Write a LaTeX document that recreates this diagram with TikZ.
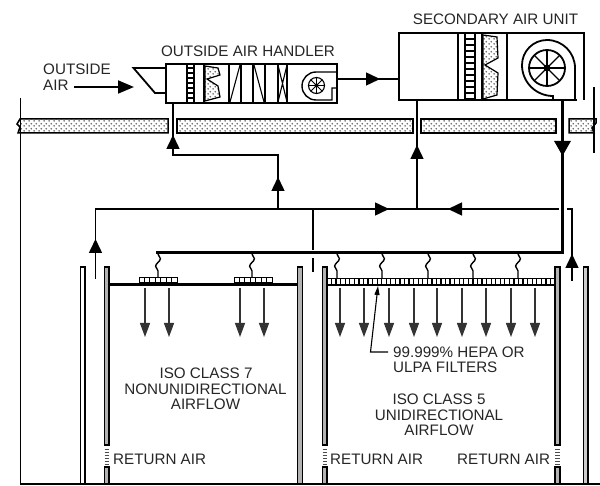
\documentclass[tikz,border=0pt]{standalone}
\usepackage{fontspec}
\setmainfont{Liberation Sans}
\usetikzlibrary{arrows.meta,patterns,decorations.pathmorphing}
\pgfdeclarepatternformonly{speckle}{\pgfpointorigin}{\pgfqpoint{4.6pt}{4.6pt}}{\pgfqpoint{4.6pt}{4.6pt}}{
  \pgfpathcircle{\pgfqpoint{1.15pt}{1.15pt}}{0.95pt}
  \pgfpathcircle{\pgfqpoint{3.45pt}{3.45pt}}{0.95pt}
  \pgfusepath{fill}
}
\tikzset{
  lab/.style={text=black!85,font=\fontsize{15.2pt}{15.2pt}\selectfont,inner sep=0pt},
  duct/.style={line width=1.5pt},
  mainduct/.style={line width=3pt},
  bighead/.style={-{Triangle[width=13pt,length=14pt]},line width=1.5pt},
  airdown/.style={-{Triangle[width=10pt,length=14pt]},line width=1.2pt,black!80},
  casing/.style={line width=1.8pt},
  inner/.style={line width=1.4pt},
  slab/.style={draw,line width=1.5pt,pattern=speckle,pattern color=black!60},
  bagfill/.style={draw,line width=1.2pt,pattern=speckle,pattern color=black!60},
  wallg/.style={draw,line width=1.2pt,fill=black!30},
  wallw/.style={draw,line width=1.3pt,fill=white},
  flex/.style={line width=1.4pt,decorate,decoration={snake,amplitude=2.4pt,segment length=15pt}}
}
\begin{document}
\begin{tikzpicture}[x=1pt,y=-1pt]
  \useasboundingbox (0,0) rectangle (600,486);
  \fill[white] (0,0) rectangle (600,486);
  % 楼板
  \draw[slab] (168,119) -- (20,119) -- (17,124) -- (20,127) -- (18,133) -- (168,133) -- cycle;
  \draw[slab] (177,119) rectangle (413,133);
  \draw[slab] (421,119) rectangle (556,133);
  \draw[slab] (596,119) -- (569,119) -- (569,133) -- (594,133) -- (592,128) -- (596,123) -- cycle;
  \draw[line width=1.2pt] (20.5,98) -- (20.5,484) -- (600,484);
  \draw[line width=1.2pt] (594,87) -- (594,153);
  % 室外空气处理机
  \node[draw,casing,minimum width=171pt,minimum height=39pt,inner sep=0pt] (handler) at (251.5,83.5) {};
  \draw[casing] (166,68) -- (133.5,68) -- (155,93) -- (166,93);
  \draw[line width=1.1pt] (187,65) -- (187,103) (194,65) -- (194,103);
  \foreach \y in {68,73,...,103}
    \draw[line width=1.1pt] (187,\y) -- (194,\y);
  \draw[inner] (204,64) -- (204,103);
  \draw[bagfill] (205,66) -- (218,68) -- (220,75) -- (207,79) -- (218,86) -- (220,97) -- (205,101) -- cycle;
  \draw[inner] (229,64) -- (229,103) (241,64) -- (241,103) (253,64) -- (253,103) (265,64) -- (265,103) (278,64) -- (278,103) (287,64) -- (287,103);
  \draw[line width=1.1pt] (230,102) -- (240,65) (254,65) -- (264,102) (278,65) -- (287,102) (287,65) -- (278,102);
  \draw[inner] (337,72) -- (316,72) arc[start angle=-90,end angle=-180,radius=14] arc[start angle=-180,end angle=-270,radius=14] -- (332,100) -- (332,88) -- (337,88);
  \draw[line width=1.1pt] (316.5,85.5) circle (8);
  \foreach \a in {0,45,...,315}
    \draw[line width=0.9pt] (316.5,85.5) -- ++(\a:8);
  \fill (316.5,85.5) circle (2);
  % 二次空气单元
  \coordinate (secin) at (399,79);
  \coordinate (secret) at (417,100);
  \coordinate (secsup) at (562.5,100);
  \draw[casing] (577,100) -- (399,100) -- (399,33) -- (584,33) -- (584,100);
  \draw[casing] (458,33) -- (458,100) (465,33) -- (465,100) (475,33) -- (475,100) (482,33) -- (482,100) (507,33) -- (507,100);
  \foreach \y in {39,45,...,99}
    \draw[line width=1.5pt] (465,\y) -- (475,\y);
  \draw[bagfill] (483,35) -- (497,37) -- (498,58) -- (485,65) -- (498,73) -- (497,95) -- (483,99) -- cycle;
  \draw[casing] (575,100) -- (575,68) arc[start angle=0,end angle=-90,radius=28] arc[start angle=-90,end angle=-180,radius=25] arc[start angle=-180,end angle=-270,radius=31] -- (553,100);
  \draw[line width=1.8pt] (547,68) circle (18);
  \foreach \a in {0,45,...,315}
    \draw[line width=1.4pt] (547,68) -- ++(\a:18);
  \fill (547,68) circle (3.5);
  % 风管节点
  \coordinate (oa) at (173,104);
  \coordinate (oabend) at (173,155);
  \coordinate (oaelbow) at (278,155);
  \coordinate (oatee) at (278,209);
  \coordinate (retleft) at (95.5,209);
  \coordinate (retleftend) at (95.5,279);
  \coordinate (retmid) at (417,209);
  \coordinate (retright) at (559,209);
  \coordinate (retstub) at (567,209);
  \coordinate (retcorner) at (572,209);
  \coordinate (retrightend) at (572,281);
  \coordinate (supcorner) at (562.5,253);
  \coordinate (supend) at (156,253);
  % 风管
  \draw[duct] (handler.east |- secin) -- (secin);
  \draw[duct] (oa) -- (oabend) -- (oaelbow) -- (oatee);
  \draw[duct] (retleftend) -- (retleft) -- (retright);
  \draw[duct] (secret) -- (retmid);
  \draw[duct] (retstub) -- (retcorner) -- (retrightend);
  \draw[mainduct] (secsup) -- (supcorner) -- (supend);
  \draw[line width=2.5pt] (313,209) -- (313,250) (313,258) -- (313,272);
  % 气流箭头
  \draw[-{Triangle[width=13pt,length=16pt]},line width=1.8pt] (74,87) -- (134,87);
  \draw[bighead] (365,79) -- (380,79);
  \draw[bighead] (173,147) -- (173,135);
  \draw[bighead] (278,191) -- (278,177);
  \draw[bighead] (417,158) -- (417,145);
  \draw[bighead] (375,209) -- (389,209);
  \draw[bighead] (463,209) -- (448,209);
  \draw[bighead] (95.5,253) -- (95.5,239);
  \draw[bighead] (572,267) -- (572,254);
  \draw[-{Triangle[width=16pt,length=15pt]},line width=3pt] (562.5,140) -- (562.5,156);
  % 隔墙
  \draw[wallw] (80.5,267) rectangle (85,484);
  \draw[wallg] (104.5,267) rectangle (109,445);
  \draw[wallg] (104.5,467) rectangle (109,484);
  \draw[wallg] (297.5,267) rectangle (302.5,484);
  \draw[wallg] (322.5,267) rectangle (327,445);
  \draw[wallg] (322.5,467) rectangle (327,484);
  \draw[wallg] (555,267) rectangle (560,445);
  \draw[wallg] (555,467) rectangle (560,484);
  \draw[wallg,fill=black!20] (583.5,267) rectangle (588,484);
  \foreach \x in {104.5,322.5,555}
    \foreach \y in {449,452,...,464}
      \draw[black!70,line width=0.8pt] (\x,\y) -- ++(4.5,0);
  % 过滤器
  \draw[mainduct] (109,284.5) -- (297,284.5);
  \foreach \x in {139,234}{
    \draw[line width=1pt] (\x,277.5) rectangle (\x+38,283);
    \foreach \i in {1,...,6}
      \draw[line width=1pt] (\x+5.43*\i,277.5) -- (\x+5.43*\i,283);
  }
  \draw[line width=1.9pt,fill=white] (327,278.5) rectangle (555,285);
  \foreach \i in {1,...,49}
    \draw[line width=1.3pt] (327+4.56*\i,278.5) -- (327+4.56*\i,285);
  % 软管
  \foreach \x in {158,252}
    \draw[flex] (\x,254) -- (\x,277);
  \foreach \x in {337,382,428,473,518}
    \draw[flex] (\x,254) -- (\x,278);
  % 送风
  \foreach \x in {145,169,240,264,340,364,389,414,437,462,486,511,535}
    \draw[airdown] (\x,288) -- (\x,337);
  % 标注
  \node[lab,anchor=west] (outside) at (43,69) {OUTSIDE};
  \node[lab,anchor=west] (air) at (43,85) {AIR};
  \node[lab] (handlername) at (248,51) {OUTSIDE AIR HANDLER};
  \node[lab] (secname) at (495.5,19) {SECONDARY AIR UNIT};
  \node[lab,anchor=west] (hepa) at (393,352) {99.999\% HEPA OR};
  \node[lab,anchor=west] (ulpa) at (393,367) {ULPA FILTERS};
  \node[lab] (isoseven) at (206,373) {ISO CLASS 7};
  \node[lab] (nonuni) at (205.5,389) {NONUNIDIRECTIONAL};
  \node[lab] (airflowa) at (205.5,404) {AIRFLOW};
  \node[lab] (isofive) at (439,399) {ISO CLASS 5};
  \node[lab] (uni) at (439,415) {UNIDIRECTIONAL};
  \node[lab] (airflowb) at (439,430) {AIRFLOW};
  \node[lab,anchor=west] (reta) at (113,459) {RETURN AIR};
  \node[lab,anchor=west] (retb) at (330,459) {RETURN AIR};
  \node[lab,anchor=west] (retc) at (457,459) {RETURN AIR};
  % 引线
  \coordinate (hepatip) at (378,286);
  \coordinate (hepabend) at (370.5,352);
  \draw[-{Triangle[width=5pt,length=9pt]},line width=1.1pt] (hepa.west) ++(-5,0) -- (hepabend) -- (hepatip);
\end{tikzpicture}
\end{document}
